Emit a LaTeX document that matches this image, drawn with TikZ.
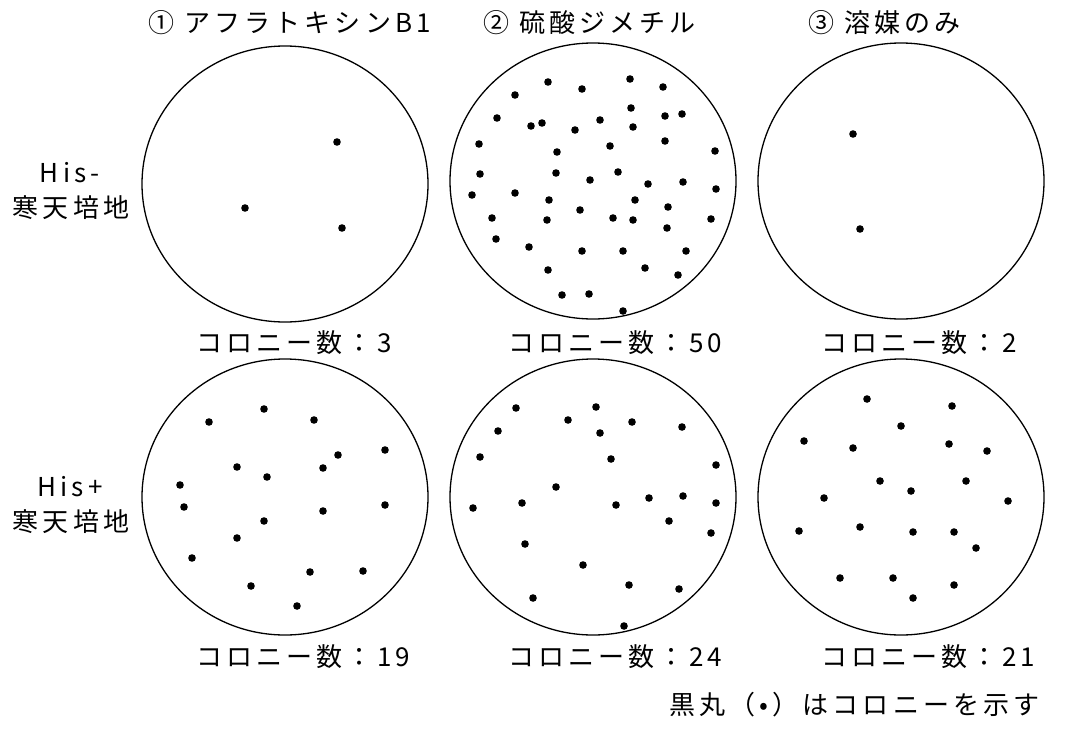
\documentclass[tikz,border=0pt]{standalone}
\usepackage{fontspec}
\setmainfont{Noto Sans CJK JP}[LetterSpace=16]
\usetikzlibrary{shapes.geometric}
\tikzset{
  plate/.style={draw, ellipse, minimum width=286pt, minimum height=276pt, inner sep=0pt, line width=1.3pt},
  lbl/.style={font=\fontsize{26}{30}\selectfont, inner sep=0pt},
  colony/.style={fill=black},
}
\begin{document}
\begin{tikzpicture}[x=1pt,y=-1pt]
\useasboundingbox (0,0) rectangle (1075,728);
% plates
\node[plate] (p1) at (285,184) {};
\node[plate] (p2) at (593,181) {};
\node[plate] (p3) at (901,181) {};
\node[plate] (p4) at (285,497) {};
\node[plate] (p5) at (593,497) {};
\node[plate] (p6) at (901,497) {};
% titles
\node[lbl, anchor=west] (t1) at (148,23) {① アフラトキシンB1};
\node[lbl, anchor=west] (t2) at (483,23) {② 硫酸ジメチル};
\node[lbl, anchor=west] (t3) at (808,23) {③ 溶媒のみ};
% row labels
\node[lbl] (ra1) at (70,173) {His-};
\node[lbl] (rb1) at (71,208) {寒天培地};
\node[lbl] (ra2) at (70,487) {His+};
\node[lbl] (rb2) at (71,522) {寒天培地};
% counts
\node[lbl, anchor=west] (n1) at (196,343) {コロニー数：3};
\node[lbl, anchor=west] (n2) at (508,343) {コロニー数：50};
\node[lbl, anchor=west] (n3) at (821,343) {コロニー数：2};
\node[lbl, anchor=west] (n4) at (196,657) {コロニー数：19};
\node[lbl, anchor=west] (n5) at (508,657) {コロニー数：24};
\node[lbl, anchor=west] (n6) at (821,657) {コロニー数：21};
\node[lbl, anchor=east] (lg) at (1040,705) {黒丸（•）はコロニーを示す};
% colonies
\foreach \x/\y in {337/142,245/208,342/228}
  \fill[colony] (\x,\y) circle[radius=3.8pt];
\foreach \x/\y in {548/82,582/89,630/79,663/87,515/95,631/108,497/118,531/126,542/123,600/120,575/130,633/127,665/116,682/114,479/144,557/152,610/146,665/141,715/151,480/174,556/173,618/172,590/180,648/184,683/182,716/189,472/195,515/193,549/200,635/200,580/210,668/207,492/218,547/220,613/218,633/220,711/219,667/228,496/239,529/247,582/251,623/251,686/251,548/270,645/268,678/275,562/295,589/294,623/311}
  \fill[colony] (\x,\y) circle[radius=3.8pt];
\foreach \x/\y in {853/134,860/229}
  \fill[colony] (\x,\y) circle[radius=3.8pt];
\foreach \x/\y in {264/409,209/422,314/420,338/455,385/450,237/467,323/468,267/477,180/485,184/507,323/511,385/505,264/521,237/538,192/558,310/572,363/571,251/586,297/606}
  \fill[colony] (\x,\y) circle[radius=3.8pt];
\foreach \x/\y in {516/408,596/407,568/420,632/422,682/427,498/431,600/433,480/457,611/459,716/465,556/487,649/498,683/496,473/508,522/503,616/505,716/503,669/521,711/533,525/544,583/565,629/585,679/589,533/598,624/626}
  \fill[colony] (\x,\y) circle[radius=3.8pt];
\foreach \x/\y in {867/399,952/406,901/426,804/441,853/448,949/444,987/451,880/481,911/491,966/481,824/498,1008/501,799/531,860/527,913/532,954/532,976/548,840/578,893/578,954/585,913/598}
  \fill[colony] (\x,\y) circle[radius=3.8pt];
\end{tikzpicture}
\end{document}
